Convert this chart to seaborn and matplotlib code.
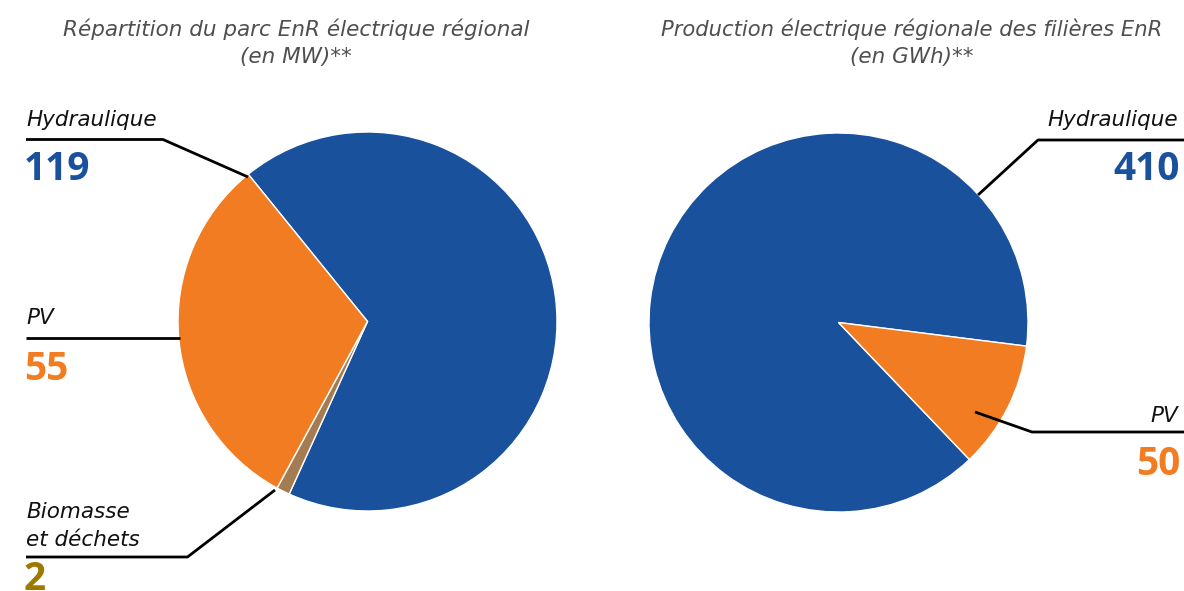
import numpy as np
import matplotlib
matplotlib.use("Agg")
import matplotlib.pyplot as plt
import seaborn as sns

# Installed capacity (MW) and production (GWh) by renewable source
capacity_labels = ["Hydraulique", "Biomasse\net déchets", "PV"]
capacity_mw = [119, 2, 55]
production_labels = ["Hydraulique", "PV"]
production_gwh = [410, 50]

titles = ["Répartition du parc EnR électrique régional\n(en MW)**",
          "Production électrique régionale des filières EnR\n(en GWh)**"]

BLUE = "#1A519C"
ORANGE = "#F27C21"
BROWN = "#A57C52"
GOLD = "#9C7A00"
capacity_colors = [BLUE, BROWN, ORANGE]
production_colors = [BLUE, ORANGE]

sns.set_theme(style="white")
plt.rcParams["font.family"] = ["DejaVu Sans"]

W, H = 1184, 591
fig = plt.figure(figsize=(W / 100, H / 100), dpi=100)

R = 189.5


def pie_axes(cx, cy):
    return fig.add_axes([(cx - R) / W, (H - cy - R) / H, 2 * R / W, 2 * R / H])


wedge_style = dict(edgecolor="white", linewidth=1.0)

ax1 = pie_axes(367.5, 321.5)
ax1.pie(capacity_mw, colors=capacity_colors, startangle=129, counterclock=False,
        wedgeprops=wedge_style, radius=1)
ax1.set_xlim(-1, 1); ax1.set_ylim(-1, 1); ax1.set_aspect("equal"); ax1.axis("off")

ax2 = pie_axes(838.5, 322.5)
ax2.pie(production_gwh, colors=production_colors, startangle=313.7, counterclock=False,
        wedgeprops=wedge_style, radius=1)
ax2.set_xlim(-1, 1); ax2.set_ylim(-1, 1); ax2.set_aspect("equal"); ax2.axis("off")

# Overlay in pixel coordinates for titles, labels and leader lines
ov = fig.add_axes([0, 0, 1, 1], zorder=5)
ov.set_xlim(0, W); ov.set_ylim(H, 0); ov.axis("off")
ov.patch.set_alpha(0)

title_kw = dict(ha="center", va="baseline", fontsize=15.5, style="italic",
                color="#4F4F4F")
ov.text(296, 36, titles[0].split("\n")[0], **title_kw)
ov.text(296, 63, titles[0].split("\n")[1], **title_kw)
ov.text(912, 36, titles[1].split("\n")[0], fontsize=15.2,
        **{k: v for k, v in title_kw.items() if k != "fontsize"})
ov.text(912, 63, titles[1].split("\n")[1], **title_kw)

lab_kw = dict(va="baseline", fontsize=15.5, style="italic", color="#111111")
num_kw = dict(fontsize=28, fontweight="bold", family=["Open Sans", "DejaVu Sans"])
line_kw = dict(color="black", lw=2.0, solid_capstyle="butt")

# Left chart labels
ov.text(26, 126, capacity_labels[0], ha="left", **lab_kw)
ov.plot([26, 163, 248], [139.5, 139.5, 177], **line_kw)
ov.text(24, 180, str(capacity_mw[0]), ha="left", va="baseline", color=BLUE, **num_kw)

ov.text(26, 324, capacity_labels[2], ha="left", **lab_kw)
ov.plot([26, 180], [338.3, 338.3], **line_kw)
ov.text(24, 380, str(capacity_mw[2]), ha="left", va="baseline", color=ORANGE, **num_kw)

ov.text(26, 518, capacity_labels[1].split("\n")[0], ha="left", **lab_kw)
ov.text(26, 546.5, capacity_labels[1].split("\n")[1], ha="left", **lab_kw)
ov.plot([26, 187.5, 275], [557, 557, 490], **line_kw)
ov.text(24, 590, str(capacity_mw[1]), ha="left", va="baseline", color=GOLD, **num_kw)

# Right chart labels
ov.text(1178, 126, production_labels[0], ha="right", **lab_kw)
ov.plot([978, 1038, 1184], [195, 140, 140], **line_kw)
ov.text(1180, 180, str(production_gwh[0]), ha="right", va="baseline", color=BLUE, **num_kw)

ov.text(1178, 421.5, production_labels[1], ha="right", **lab_kw)
ov.plot([975, 1032, 1184], [412, 432, 432], **line_kw)
ov.text(1180, 475, str(production_gwh[1]), ha="right", va="baseline", color=ORANGE, **num_kw)

fig.savefig("out.png", dpi=100, facecolor="white")
